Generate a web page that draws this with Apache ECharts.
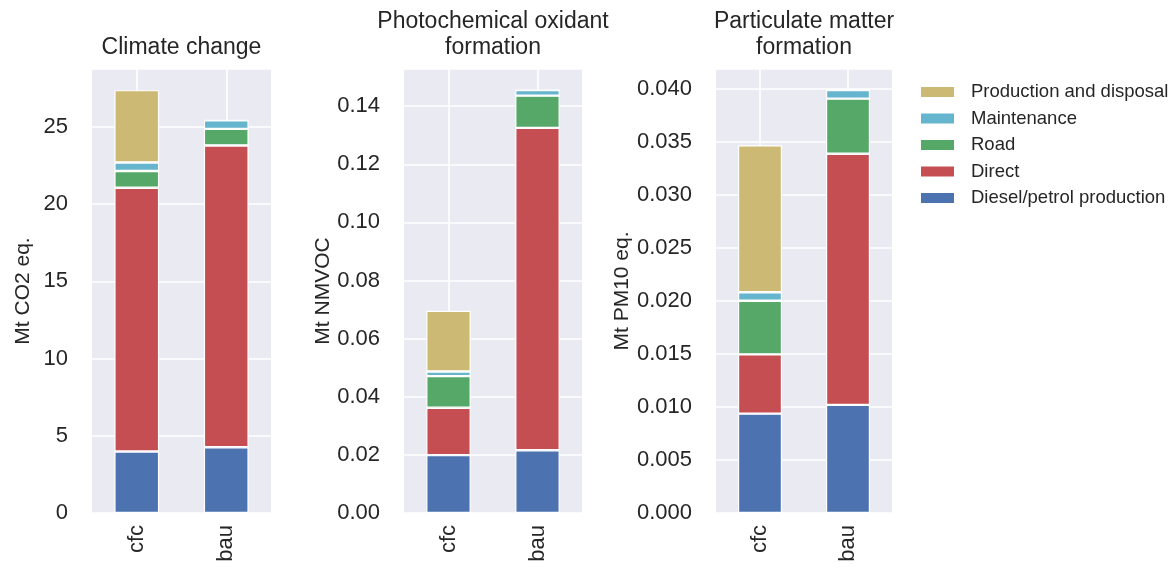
<!DOCTYPE html>
<html>
<head>
<meta charset="utf-8">
<script src="https://cdn.jsdelivr.net/npm/echarts@6/dist/echarts.min.js"></script>
<style>
  html, body { margin: 0; padding: 0; background: #ffffff; }
  #chart { width: 1173px; height: 576px; }
</style>
</head>
<body>
<div id="chart"></div>
<script>
// Scenarios on the x axis
const categories = ['cfc', 'bau'];

// Stack components, bottom to top
const componentNames = ['Diesel/petrol production', 'Direct', 'Road', 'Maintenance', 'Production and disposal'];
const componentColors = ['#4C72B0', '#C44E52', '#55A868', '#64B5CD', '#CCB974'];

// Climate change, Mt CO2 eq.
const climateDiesel = [3.98, 4.26];
const climateDirect = [17.07, 19.53];
const climateRoad = [1.09, 1.07];
const climateMaintenance = [0.55, 0.56];
const climateProduction = [4.68, 0];

// Photochemical oxidant formation, Mt NMVOC
const photoDiesel = [0.0199, 0.0216];
const photoDirect = [0.0163, 0.1109];
const photoRoad = [0.0109, 0.0111];
const photoMaintenance = [0.0016, 0.0019];
const photoProduction = [0.0209, 0];

// Particulate matter formation, Mt PM10 eq.
const pmDiesel = [0.00938, 0.0102];
const pmDirect = [0.00559, 0.0237];
const pmRoad = [0.00506, 0.0052];
const pmMaintenance = [0.0008, 0.0008];
const pmProduction = [0.01386, 0];

// Panel titles, axis names and tick settings
const panelTitles = ['Climate change', 'Photochemical oxidant\nformation', 'Particulate matter\nformation'];
const yAxisNames = ['Mt CO2 eq.', 'Mt NMVOC', 'Mt PM10 eq.'];
const tickIntervals = [5, 0.02, 0.005];
const tickDecimals = [0, 2, 3];

const panels = [
  [climateDiesel, climateDirect, climateRoad, climateMaintenance, climateProduction],
  [photoDiesel, photoDirect, photoRoad, photoMaintenance, photoProduction],
  [pmDiesel, pmDirect, pmRoad, pmMaintenance, pmProduction]
];

const FONT = "'Liberation Sans', Arial, 'DejaVu Sans', sans-serif";
const TEXT = '#262626';

// Layout of the three plot areas (pixels)
const gridBoxes = [
  { left: 92, width: 179 },
  { left: 404, width: 178 },
  { left: 716, width: 176 }
];
const gridTop = 69, gridBottom = 63;

const grids = [], xAxes = [], yAxes = [], series = [], titles = [];

panels.forEach((comps, p) => {
  const box = gridBoxes[p];
  grids.push({
    left: box.left, width: box.width, top: gridTop, bottom: gridBottom,
    show: true, backgroundColor: '#EAEAF2', borderWidth: 0
  });

  // axis top with a 5% margin above the tallest stack
  const totals = categories.map((_, i) => comps.reduce((s, arr) => s + arr[i], 0));
  const yMax = Math.max(...totals) * 1.05;

  xAxes.push({
    type: 'category', gridIndex: p, data: categories,
    axisLine: { show: false }, axisTick: { show: false },
    splitLine: { show: false },
    axisLabel: { rotate: 90, margin: 12, fontSize: 22, color: TEXT, fontFamily: FONT }
  });

  yAxes.push({
    type: 'value', gridIndex: p, min: 0, max: yMax, interval: tickIntervals[p],
    name: yAxisNames[p], nameLocation: 'middle', nameGap: 58,
    nameTextStyle: { fontSize: 21, color: TEXT, fontFamily: FONT },
    axisLine: { show: false }, axisTick: { show: false },
    splitLine: { show: true, lineStyle: { color: '#ffffff', width: 1.6 } },
    axisLabel: {
      margin: 24, fontSize: 22, color: TEXT, fontFamily: FONT,
      showMaxLabel: false,
      formatter: v => v.toFixed(tickDecimals[p])
    }
  });

  // vertical grid lines through the category centres, kept behind the bars
  series.push({
    type: 'line', xAxisIndex: p, yAxisIndex: p, data: [], z: 0, silent: true,
    markLine: {
      z: 0, silent: true, symbol: 'none', label: { show: false },
      lineStyle: { color: '#ffffff', width: 1.6, type: 'solid' },
      data: categories.map(c => ({ xAxis: c }))
    }
  });

  comps.forEach((values, k) => {
    series.push({
      name: componentNames[k], type: 'bar', stack: 'panel' + p,
      xAxisIndex: p, yAxisIndex: p, data: values, barWidth: '50%', z: 3,
      itemStyle: { color: componentColors[k], borderColor: '#ffffff', borderWidth: 1.2 }
    });
  });

  const twoLine = panelTitles[p].indexOf('\n') >= 0;
  titles.push({
    text: panelTitles[p], left: box.left + box.width / 2, top: twoLine ? 9 : 35,
    textAlign: 'center', padding: 0,
    textStyle: { fontSize: 23, fontWeight: 'normal', color: TEXT, fontFamily: FONT, lineHeight: 26 }
  });
});

const chart = echarts.init(document.getElementById('chart'), null, { renderer: 'canvas' });
chart.setOption({
  animation: false,
  backgroundColor: '#ffffff',
  title: titles,
  grid: grids,
  xAxis: xAxes,
  yAxis: yAxes,
  legend: {
    orient: 'vertical', left: 919, top: 82, padding: 0,
    itemWidth: 35, itemHeight: 12, itemGap: 6.5,
    icon: 'rect',
    data: componentNames.slice().reverse(),
    textStyle: { fontSize: 18.5, color: TEXT, fontFamily: FONT, lineHeight: 20, padding: [0, 0, 0, 11] }
  },
  series: series
});
</script>
</body>
</html>
